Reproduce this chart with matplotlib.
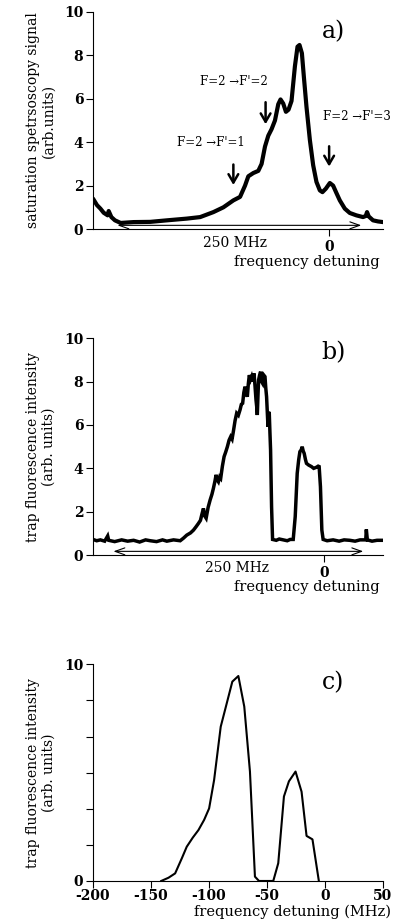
import numpy as np
import matplotlib
matplotlib.use('Agg')
import matplotlib.pyplot as plt

plt.rcParams['font.family'] = ['DejaVu Serif']
plt.rcParams['font.size'] = 10

# a) saturation spectroscopy trace (x in MHz relative to F=2 -> F'=3)
sat_x = [-236.7, -232.7, -229.3, -226, -222, -221, -218.3, -214.7, -209, -196, -179.3, -162.7,
         -142.7, -129.3, -116, -106, -96, -89.3, -84.3, -81, -76, -71, -67.7, -64.3, -61,
         -57.7, -54.3, -51, -48.7, -46, -43.3, -40.7, -37.7, -34.3, -31.7, -29.7, -27.3,
         -25.3, -22.7, -19.3, -16, -12.7, -9.3, -6.7, -3.3, 0.7, 4, 7.3, 10.7, 15.7, 20.7,
         27.3, 34, 36.7, 38, 39.7, 44, 49, 54]
sat_y = [1.4, 1.1, 0.94, 0.75, 0.63, 0.83, 0.55, 0.4, 0.28, 0.32, 0.33, 0.4,
         0.48, 0.55, 0.78, 1.0, 1.32, 1.48, 2.0, 2.43, 2.58, 2.68, 3.0, 3.8, 4.3,
         4.6, 5.0, 5.75, 5.97, 5.78, 5.4, 5.5, 5.9, 7.5, 8.4, 8.48, 8.1,
         7.0, 5.63, 4.1, 2.94, 2.17, 1.78, 1.7, 1.86, 2.12, 2.0, 1.66, 1.32, 0.94, 0.74,
         0.63, 0.55, 0.6, 0.78, 0.58, 0.4, 0.35, 0.32]

# b) trap fluorescence vs detuning (recorded trace)
trap_x = [-231.7, -228, -224.3, -220, -217, -216, -210, -203, -197, -191, -185, -179, -174.3,
          -168, -162, -157.7, -151, -144.3, -141, -137.7, -134, -131, -128.5, -126, -124,
          -122.7, -121, -119.7, -118.3, -116.3, -114.3, -112.5, -111, -109.5, -108.3, -107,
          -106, -104.7, -103.7, -102, -100.3, -98.7, -97, -95.3, -93.7, -92.3, -91, -89.3,
          -87.7, -86, -84.3, -83, -81.7, -80.5, -79.3, -78, -77, -76, -75, -73.8, -72.7,
          -71.5, -70.3, -69.3, -68.3, -67.5, -67, -66.3, -65.7, -64.7, -63.7, -62.7, -61.7,
          -60.5, -59.3, -58.5, -57.7, -56.3, -55.7, -55, -54.3, -53.7, -52.7, -51.7, -48,
          -45, -41, -37, -34, -31, -29, -27, -25.5, -24.3, -23, -22, -21, -20, -18.7, -17.7,
          -15.5, -12.7, -10.5, -7.7, -6, -5, -3.7, -2.3, -1, 3, 9, 15, 20, 25.7, 31, 36,
          41.7, 42.3, 43.3, 48, 53, 59]
trap_y = [0.72, 0.66, 0.7, 0.64, 0.88, 0.68, 0.62, 0.7, 0.64, 0.68, 0.6, 0.7, 0.66,
          0.62, 0.7, 0.64, 0.7, 0.66, 0.78, 0.92, 1.02, 1.15, 1.3, 1.46, 1.6,
          1.85, 2.15, 1.8, 1.7, 2.2, 2.54, 2.8, 3.08, 3.4, 3.7, 3.45,
          3.38, 3.6, 3.54, 4.1, 4.54, 4.75, 5.0, 5.3, 5.46, 5.35, 5.7, 6.2,
          6.54, 6.45, 6.7, 6.95, 7.0, 7.5, 7.77, 7.5, 7.3, 7.9, 8.3, 8.1, 8.23,
          8.0, 8.38, 7.8, 7.15, 6.8, 6.46, 7.4, 8.08, 8.3, 8.46, 8.0, 7.92,
          8.3, 8.23, 7.7, 7.3, 5.92, 6.6, 6.54, 5.6, 4.85, 2.23, 0.72, 0.68,
          0.74, 0.7, 0.66, 0.72, 0.72, 1.77, 3.77, 4.4, 4.77, 4.85, 5.0, 4.8, 4.69, 4.4, 4.23,
          4.15, 4.08, 4.0, 4.05, 4.1, 4.08, 3.15, 1.15, 0.72, 0.66, 0.7, 0.64, 0.7, 0.68, 0.64, 0.7,
          0.7, 1.18, 0.7, 0.64, 0.68, 0.68]

# c) trap fluorescence vs detuning in MHz (measured points)
det_x = [-141.2, -134.9, -129.2, -123.4, -119.2, -114, -109.1, -104.2, -99.9, -95.6, -89.9,
         -84.7, -79.9, -74.7, -69.6, -64.7, -60.4, -56.9, -44.6, -40.3, -35.4, -31.1, -25.4,
         -20.2, -15.9, -10.8, -5.3]
det_y = [0, 0.15, 0.35, 1.05, 1.58, 2.0, 2.35, 2.82, 3.35, 4.66, 7.12,
         8.2, 9.2, 9.46, 8.05, 5.05, 0.2, 0, 0, 0.82, 3.9, 4.6, 5.05,
         4.12, 2.08, 1.92, 0]

# hyperfine transition labels: (text, arrow x, arrow top, arrow tip, text x, text y)
transitions = [("F=2 \u2192F'=1", -96, 3.1, 1.9, -119, 3.97),
               ("F=2 \u2192F'=2", -63.7, 5.97, 4.7, -95.7, 6.78),
               ("F=2 \u2192F'=3", 0, 3.94, 2.75, 28, 5.17)]

fig = plt.figure(figsize=(3.98, 9.22), dpi=100)
ax_a = fig.add_axes([0.2337, 0.7516, 0.7286, 0.2354])
ax_b = fig.add_axes([0.2337, 0.3980, 0.7286, 0.2351])
ax_c = fig.add_axes([0.2337, 0.0445, 0.7286, 0.2350])

for ax in (ax_a, ax_b, ax_c):
    ax.spines['top'].set_visible(False)
    ax.spines['right'].set_visible(False)
    ax.spines['left'].set_linewidth(0.8)
    ax.spines['bottom'].set_linewidth(0.8)
    ax.tick_params(direction='out', length=5, width=0.8, pad=2, labelsize=10)
    ax.set_ylim(0, 10)

# --- panel a
ax_a.plot(sat_x, sat_y, color='black', lw=3, solid_joinstyle='round', solid_capstyle='round')
ax_a.set_xlim(-236.7, 54)
ax_a.set_yticks([0, 2, 4, 6, 8, 10])
ax_a.set_xticks([0])
ax_a.tick_params(axis='x', pad=3)
ax_a.set_ylabel('saturation spetrsoscopy signal\n(arb.units)', labelpad=6, linespacing=1.1)
for label, ax_x, y0, y1, tx, ty in transitions:
    ax_a.annotate('', xy=(ax_x, y1), xytext=(ax_x, y0),
                  arrowprops=dict(arrowstyle='->, head_length=0.6, head_width=0.35', lw=1.8, color='black'))
    ax_a.text(tx, ty, label, ha='center', va='center', fontsize=8.5)
ax_a.annotate('', xy=(-215, 0.17), xytext=(35, 0.17),
              arrowprops=dict(arrowstyle='<->, head_length=0.7, head_width=0.25', lw=0.8, color='black'))
ax_a.text(-94, -0.65, '250 MHz', ha='center', va='center')
ax_a.text(51, -1.5, 'frequency detuning', ha='right', va='center', fontsize=10.5)
ax_a.text(4, 9.08, 'a)', ha='center', va='center', fontsize=17)

# --- panel b
ax_b.plot(trap_x, trap_y, color='black', lw=2.5, solid_joinstyle='miter')
ax_b.set_xlim(-231.7, 59)
ax_b.set_yticks([0, 2, 4, 6, 8, 10])
ax_b.set_xticks([0])
ax_b.tick_params(axis='x', pad=3)
ax_b.set_ylabel('trap fluorescence intensity\n(arb. units)', labelpad=6, linespacing=1.1)
ax_b.annotate('', xy=(-214, 0.17), xytext=(42, 0.17),
              arrowprops=dict(arrowstyle='<->, head_length=0.7, head_width=0.25', lw=0.8, color='black'))
ax_b.text(-87.6, -0.6, '250 MHz', ha='center', va='center')
ax_b.text(55.7, -1.46, 'frequency detuning', ha='right', va='center', fontsize=10.5)
ax_b.text(9, 9.32, 'b)', ha='center', va='center', fontsize=17)

# --- panel c
ax_c.plot(det_x, det_y, color='black', lw=1.5)
ax_c.set_xlim(-200, 50)
ax_c.set_xticks([-200, -150, -100, -50, 0, 50])
ax_c.set_xticklabels(['-200', '-150', '-100', '-50', '0', '50'])
ax_c.set_yticks(np.linspace(0, 10, 7))
ax_c.set_yticklabels(['0', '', '', '', '', '', '10'])
ax_c.tick_params(axis='x', pad=1)
ax_c.set_ylabel('trap fluorescence intensity\n(arb. units)', labelpad=6, linespacing=1.1)
ax_c.text(57.2, -1.42, 'frequency detuning (MHz)', ha='right', va='center', fontsize=10.5)
ax_c.text(6.7, 9.14, 'c)', ha='center', va='center', fontsize=17)

# tick numbers are printed heavier in the original
for ax in (ax_a, ax_b, ax_c):
    for t in ax.get_xticklabels() + ax.get_yticklabels():
        t.set_fontweight('bold')

fig.savefig('out.png', dpi=100)
